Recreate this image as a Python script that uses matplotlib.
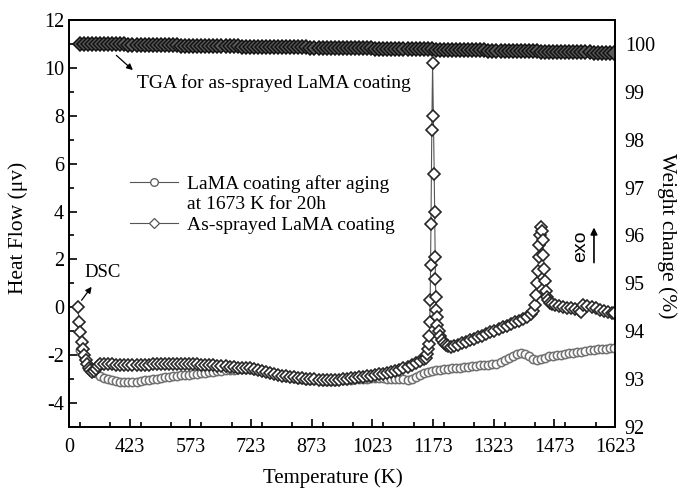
import matplotlib
matplotlib.use("Agg")
import matplotlib.pyplot as plt
from matplotlib.lines import Line2D
from matplotlib.ticker import MultipleLocator, FixedLocator
import numpy as np

plt.rcParams['font.family'] = ['Liberation Serif', 'DejaVu Serif']
plt.rcParams['mathtext.fontset'] = 'stix'
plt.rcParams['axes.unicode_minus'] = False

# ---------------- data ----------------
# x tick positions (K) and labels
x_ticks = [273, 423, 573, 723, 873, 1023, 1173, 1323, 1473, 1623]
x_tick_labels = ["0", "423", "573", "723", "873", "1023", "1173", "1323", "1473", "1623"]

# As-sprayed LaMA coating DSC (diamonds), heat flow (uV)
as_T_a = [295, 298, 301, 304, 307, 310, 314, 318, 322, 326, 330, 335, 340, 345, 350]
as_hf_a = [0.0, -0.6, -1.05, -1.45, -1.75, -2.0, -2.2, -2.38, -2.52, -2.62, -2.7, -2.68, -2.58, -2.45, -2.38]

as_T_b = [360, 370, 380, 390, 400, 410, 420, 430, 440, 450,
          460, 470, 480, 490, 500, 510, 520, 530, 540, 550,
          560, 570, 580, 590, 600, 610, 620, 630, 640, 650,
          660, 670, 680, 690, 700, 710, 720, 730, 740, 750,
          760, 770, 780, 790, 800, 810, 820, 830, 840, 850,
          860, 870, 880, 890, 900, 910, 920, 930, 940, 950,
          960, 970, 980, 990, 1000, 1010, 1020, 1030, 1040, 1050,
          1060, 1070, 1080, 1090, 1100, 1110, 1120, 1130, 1140, 1150]
as_hf_b = [-2.35, -2.36, -2.38, -2.40, -2.41, -2.42, -2.42, -2.42, -2.41, -2.40,
           -2.40, -2.39, -2.38, -2.38, -2.37, -2.37, -2.37, -2.37, -2.37, -2.37,
           -2.37, -2.37, -2.38, -2.38, -2.39, -2.40, -2.41, -2.42, -2.44, -2.45,
           -2.47, -2.49, -2.50, -2.52, -2.53, -2.54, -2.55, -2.58, -2.62, -2.66,
           -2.70, -2.74, -2.78, -2.82, -2.85, -2.88, -2.91, -2.93, -2.95, -2.97,
           -2.99, -3.00, -3.01, -3.02, -3.03, -3.04, -3.04, -3.04, -3.03, -3.01,
           -2.99, -2.97, -2.95, -2.93, -2.90, -2.87, -2.85, -2.82, -2.80, -2.77,
           -2.73, -2.69, -2.65, -2.60, -2.55, -2.48, -2.40, -2.32, -2.25, -2.18]

as_T_c = [1155, 1158, 1161, 1163, 1164, 1165, 1166, 1167, 1168, 1170,
          1172, 1174, 1176, 1177, 1178, 1179, 1180, 1181, 1182, 1184,
          1187, 1191, 1196, 1201, 1206, 1211, 1217]
as_hf_c = [-2.1, -1.95, -1.75, -1.55, -1.2, -0.6, 0.3, 1.77, 3.5, 7.4,
           10.2, 8.0, 5.57, 4.0, 2.1, 1.2, 0.43, -0.1, -0.4, -0.75,
           -1.0, -1.2, -1.35, -1.48, -1.57, -1.62, -1.65]

as_T_d = [1225, 1235, 1245, 1255, 1265, 1275, 1285, 1295, 1305, 1315,
          1325, 1335, 1345, 1355, 1365, 1375, 1385, 1395, 1405, 1415]
as_hf_d = [-1.62, -1.56, -1.50, -1.44, -1.38, -1.31, -1.25, -1.18, -1.12, -1.05,
           -0.98, -0.91, -0.84, -0.77, -0.70, -0.63, -0.56, -0.49, -0.42, -0.30]

as_T_e = [1420, 1424, 1427, 1430, 1432, 1434, 1436, 1438, 1440, 1442,
          1444, 1446, 1448, 1450, 1452, 1455, 1458, 1462, 1467]
as_hf_e = [-0.15, 0.1, 0.5, 1.0, 1.5, 2.1, 2.6, 3.0, 3.35, 3.2,
           2.8, 2.2, 1.6, 1.1, 0.7, 0.45, 0.3, 0.2, 0.12]

as_T_f = [1475, 1485, 1495, 1505, 1515, 1525, 1535, 1540, 1545, 1555,
          1565, 1575, 1585, 1595, 1605, 1615, 1620]
as_hf_f = [0.08, 0.05, 0.0, -0.02, -0.04, -0.06, -0.10, -0.18, 0.08, 0.05,
           0.0, -0.05, -0.10, -0.14, -0.18, -0.22, -0.25]

# LaMA coating after aging at 1673 K for 20 h (circles)
aged_T = [300, 310, 320, 330, 340, 350, 360, 370, 380, 390,
          400, 410, 420, 430, 440, 450, 460, 470, 480, 490,
          500, 510, 520, 530, 540, 550, 560, 570, 580, 590,
          600, 610, 620, 630, 640, 650, 660, 670, 680, 690,
          700, 710, 720, 730, 740, 750, 760, 770, 780, 790,
          800, 810, 820, 830, 840, 850, 860, 870, 880, 890,
          900, 910, 920, 930, 940, 950, 960, 970, 980, 990,
          1000, 1010, 1020, 1030, 1040, 1050, 1060, 1070, 1080, 1090,
          1100, 1110, 1120, 1130, 1140, 1150, 1160, 1170, 1180, 1190,
          1200, 1210, 1220, 1230, 1240, 1250, 1260, 1270, 1280, 1290,
          1300, 1310, 1320, 1330, 1340, 1350, 1360, 1370, 1380, 1390,
          1400, 1410, 1420, 1430, 1440, 1450, 1460, 1470, 1480, 1490,
          1500, 1510, 1520, 1530, 1540, 1550, 1560, 1570, 1580, 1590,
          1600, 1610, 1620]
aged_hf = [-1.8, -2.1, -2.4, -2.6, -2.75, -2.85, -2.95, -3.0, -3.05, -3.08,
           -3.10, -3.12, -3.12, -3.12, -3.10, -3.08, -3.05, -3.03, -3.0, -2.98,
           -2.95, -2.93, -2.90, -2.88, -2.86, -2.84, -2.83, -2.82, -2.80, -2.78,
           -2.76, -2.74, -2.72, -2.70, -2.68, -2.66, -2.64, -2.62, -2.60, -2.58,
           -2.57, -2.57, -2.58, -2.60, -2.63, -2.66, -2.70, -2.74, -2.78, -2.82,
           -2.86, -2.90, -2.93, -2.96, -2.98, -3.0, -3.02, -3.03, -3.04, -3.05,
           -3.06, -3.06, -3.06, -3.06, -3.05, -3.04, -3.03, -3.02, -3.01, -3.0,
           -2.99, -2.98, -2.97, -2.97, -2.97, -2.97, -2.98, -2.98, -2.99, -3.0,
           -3.0, -3.02, -3.0, -2.90, -2.82, -2.75, -2.70, -2.65, -2.62, -2.60,
           -2.58, -2.56, -2.55, -2.53, -2.52, -2.50, -2.48, -2.46, -2.45, -2.43,
           -2.42, -2.40, -2.38, -2.35, -2.30, -2.22, -2.12, -2.03, -1.95, -1.90,
           -1.95, -2.05, -2.15, -2.20, -2.18, -2.10, -2.05, -2.02, -2.0, -1.98,
           -1.95, -1.92, -1.90, -1.88, -1.85, -1.82, -1.80, -1.78, -1.76, -1.75,
           -1.73, -1.72, -1.70]

# TGA for as-sprayed coating, weight change (%)
tga_T = aged_T
tga_w = [100.0, 100.0, 100.0, 100.0, 100.0, 100.0, 99.99, 99.99, 99.99, 99.99,
         99.99, 99.99, 99.98, 99.98, 99.98, 99.98, 99.98, 99.98, 99.97, 99.97,
         99.97, 99.97, 99.97, 99.97, 99.97, 99.96, 99.96, 99.96, 99.96, 99.96,
         99.96, 99.96, 99.95, 99.95, 99.95, 99.95, 99.95, 99.95, 99.95, 99.95,
         99.94, 99.94, 99.94, 99.94, 99.94, 99.94, 99.94, 99.94, 99.94, 99.93,
         99.93, 99.93, 99.93, 99.93, 99.93, 99.93, 99.93, 99.92, 99.92, 99.92,
         99.92, 99.92, 99.92, 99.92, 99.92, 99.91, 99.91, 99.91, 99.91, 99.91,
         99.91, 99.91, 99.91, 99.90, 99.90, 99.90, 99.90, 99.90, 99.90, 99.90,
         99.90, 99.89, 99.89, 99.89, 99.89, 99.89, 99.89, 99.89, 99.88, 99.88,
         99.88, 99.88, 99.88, 99.88, 99.87, 99.87, 99.87, 99.87, 99.87, 99.87,
         99.87, 99.86, 99.86, 99.86, 99.86, 99.86, 99.86, 99.86, 99.85, 99.85,
         99.85, 99.85, 99.85, 99.85, 99.84, 99.84, 99.84, 99.84, 99.84, 99.84,
         99.83, 99.83, 99.83, 99.83, 99.83, 99.83, 99.83, 99.82, 99.82, 99.82,
         99.82, 99.82, 99.82]

as_T = as_T_a + as_T_b + as_T_c + as_T_d + as_T_e + as_T_f
as_hf = as_hf_a + as_hf_b + as_hf_c + as_hf_d + as_hf_e + as_hf_f

# ---------------- figure ----------------
fig = plt.figure(figsize=(6.79, 4.88), dpi=100)
ax = fig.add_axes([69/679, 1 - 427/488, (615-69)/679, (427-20)/488])
ax2 = ax.twinx()

ax.plot(aged_T, aged_hf, color='#777777', lw=0.8, marker='o', ms=6,
        mfc='white', mec='#707070', mew=1.1, zorder=3)
ax.plot(as_T, as_hf, color='#555555', lw=0.8, marker='D', ms=6,
        mfc='white', mec='#262626', mew=1.2, zorder=4)
ax2.plot(tga_T, tga_w, color='#222222', lw=0.8, marker='D', ms=7,
         mfc='#5a5a5a', mec='#111111', mew=1.1)

ax.set_xlim(273, 1623)
ax.set_ylim(-5, 12)
ax2.set_ylim(92, 100.5)

ax.xaxis.set_major_locator(FixedLocator(x_ticks))
ax.set_xticklabels(x_tick_labels)
ax.xaxis.set_minor_locator(MultipleLocator(75))
ax.yaxis.set_major_locator(MultipleLocator(2))
ax.yaxis.set_minor_locator(MultipleLocator(1))
ax2.yaxis.set_major_locator(MultipleLocator(1))

ax.tick_params(which='both', direction='in', top=False, right=False, labelsize=14.5, width=1.2)
ax.tick_params(which='major', length=6)
ax.tick_params(which='minor', length=3.5)
ax.tick_params(axis='x', pad=8)
ax2.tick_params(axis='y', length=0, labelsize=14.5, pad=7)
for a in (ax, ax2):
    for s in a.spines.values():
        s.set_linewidth(1.3)

ax.set_xlabel("Temperature (K)", fontsize=15)
ax.set_ylabel("Heat Flow (\u03bcv)", fontsize=15.5)
ax2.set_ylabel("Weight change (%)", fontsize=15.5, rotation=270)
ax.xaxis.set_label_coords(0.4826, -0.125)
ax.xaxis.label.set_va('center')
ax.yaxis.set_label_coords(-0.0934, 0.49)
ax.yaxis.label.set_va('center')
ax2.yaxis.set_label_coords(1.095, 0.47)
ax2.yaxis.label.set_va('center')

# annotations
ax.annotate("", xy=(436, 9.83), xytext=(385, 10.6),
            arrowprops=dict(arrowstyle='-|>', color='black', lw=0.9, mutation_scale=9))
ax.text(441, 9.37, "TGA for as-sprayed LaMA coating", fontsize=14, va='center', ha='left')
ax.annotate("", xy=(333, 0.95), xytext=(300, 0.2),
            arrowprops=dict(arrowstyle='-|>', color='black', lw=0.9, mutation_scale=9))
ax.text(312, 1.45, "DSC", fontsize=13.5, va='center', ha='left')
ax.annotate("", xy=(1571, 3.45), xytext=(1571, 1.75),
            arrowprops=dict(arrowstyle='-|>', color='black', lw=1.2, mutation_scale=10))
ax.text(1539, 2.55, "exo", fontsize=14, rotation=90, va='center', ha='center',
        family=['Liberation Sans', 'DejaVu Sans'])

# legend
h1 = Line2D([], [], color='#555555', lw=0.8, marker='o', ms=5.5, mfc='white', mec='#555555', mew=0.9)
h_blank = Line2D([], [], color='none', lw=0)
h2 = Line2D([], [], color='#555555', lw=0.8, marker='D', ms=5.5, mfc='white', mec='#555555', mew=0.9)
ax.legend([h1, h_blank, h2],
          ["LaMA coating after aging", "at 1673 K for 20h", "As-sprayed LaMA coating"],
          loc='upper left', bbox_to_anchor=(0.112, 0.62), frameon=False,
          fontsize=14, handlelength=2.47, handletextpad=0.45, labelspacing=0.15,
          borderaxespad=0, borderpad=0)

fig.savefig("out.png", dpi=100)
